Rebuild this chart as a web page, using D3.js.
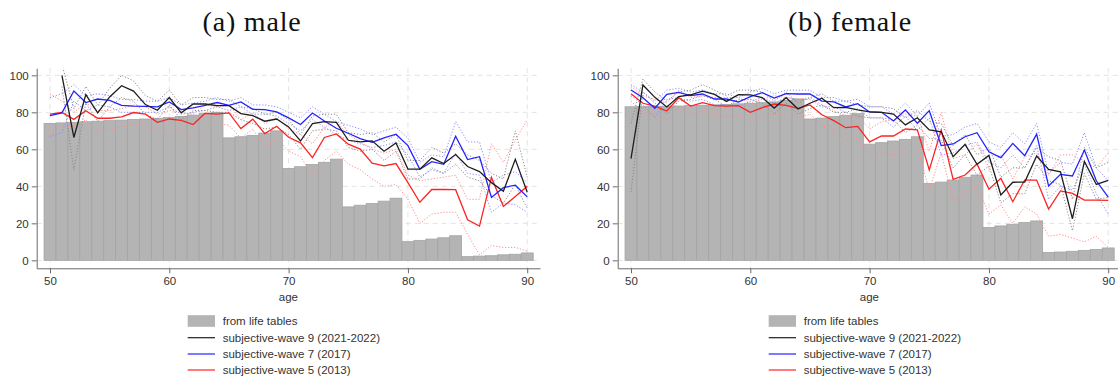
<!DOCTYPE html>
<html>
<head>
<meta charset="utf-8">
<script src="https://cdn.jsdelivr.net/npm/d3@7"></script>
<style>
  html, body { margin: 0; padding: 0; background: #fff; }
  svg { display: block; }
  .tick text { font-family: "Liberation Sans", Arial, sans-serif; font-size: 11.5px; fill: #333; }
</style>
</head>
<body>
<svg id="chart" width="1118" height="382"></svg>
<script>
// Ages on the horizontal axis
const ages = d3.range(50, 91);

// Survival probability to target age (%), male
const maleLifeTable = [74.0, 74.3, 74.6, 74.9, 75.2, 75.5, 75.8, 76.1, 76.4, 76.8,
  77.2, 77.8, 78.5, 79.3, 80.0, 66.2, 66.8, 67.5, 68.8, 70.0,
  49.6, 50.6, 51.8, 53.0, 54.7, 28.9, 29.8, 30.7, 32.0, 33.6,
  10.1, 10.8, 11.5, 12.2, 13.3, 2.0, 2.3, 2.5, 3.0, 3.3, 4.0];
const maleWave9 = [null, 100, 66.4, 89.6, 79.7, 88.3, 94.4, 91.5, 84.2, 81.1,
  88.0, 79.7, 84.5, 84.5, 83.6, 83.6, 79.3, 78.2, 75.2, 76.4,
  72.1, 64.5, 73.9, 75.0, 74.6, 64.9, 64.0, 64.6, 59.0, 63.5,
  49.3, 49.3, 55.4, 52.3, 57.2, 50.7, 48.0, 42.0, 37.3, 54.6, 36.8];
const maleWave9Lo = [null, 94, 49, 85, 75, 83, 88, 86, 79, 76,
  84, 76, 81, 81, 80, 80, 76, 74, 71, 72,
  68, 60, 70, 71, 70, 61, 59, 60, 54, 59,
  44, 44, 50, 47, 52, 45, 43, 35, 31, 41, 28];
const maleWave9Hi = [null, 106, 82, 94, 84, 93, 100, 97, 89, 86,
  92, 84, 88, 88, 87, 87, 83, 82, 79, 80,
  76, 68, 78, 79, 79, 69, 68, 69, 64, 68,
  54, 54, 61, 58, 63, 57, 54, 47, 44, 70, 45];
const maleWave7 = [78.2, 79.7, 91.5, 85.3, 87.2, 86.5, 83.8, 83.4, 83.2, 82.9,
  85.6, 81.5, 82.4, 83.8, 85.3, 83.8, 85.6, 81.6, 81.5, 80.2,
  77.0, 73.4, 79.6, 75.3, 71.4, 68.7, 65.8, 63.8, 66.2, 68.2,
  62.0, 49.2, 53.3, 51.9, 67.1, 54.5, 56.0, 34.0, 39.3, 40.6, 34.3];
const maleWave7Lo = [67, 69, 86, 81, 84, 83, 80, 80, 80, 80,
  83, 79, 80, 81, 83, 81, 83, 79, 79, 78,
  74, 70, 76, 72, 68, 65, 63, 61, 62, 64,
  57, 45, 49, 47, 58, 47, 46, 26, 31, 30, 26];
const maleWave7Hi = [88, 90, 95, 89, 90, 89, 87, 87, 86, 86,
  88, 84, 85, 86, 88, 86, 88, 84, 84, 83,
  80, 77, 83, 79, 75, 73, 71, 68, 70, 72,
  66, 53, 57, 56, 75, 64, 64, 42, 46, 48, 42];
const maleWave5 = [79.0, 79.9, 76.2, 80.9, 76.8, 76.8, 77.5, 79.9, 79.0, 74.6,
  76.4, 75.7, 73.4, 79.5, 79.0, 79.7, 71.2, 76.3, 68.5, 72.5,
  66.5, 63.5, 55.5, 66.4, 68.3, 62.8, 60.1, 52.5, 51.1, 52.3,
  42.0, 31.4, 38.3, 38.3, 38.2, 21.9, 18.5, 44.8, 29.1, 34.5, 40.1];
const maleWave5Lo = [68, 73, 72, 76, 70, 71, 72, 74, 73, 69,
  71, 70, 66, 72, 74, 73, 66, 71, 61, 66,
  59, 56, 46, 54, 59, 52, 49, 44, 40, 41,
  33, 20, 25, 26, 26, 14, 3, 8, 7, 7, 5];
const maleWave5Hi = [90, 86, 80, 85, 81, 81, 82, 84, 83, 79,
  81, 80, 79, 84, 83, 84, 76, 80, 74, 77,
  71, 68, 63, 72, 75, 68, 64, 60, 58, 60,
  46, 43, 44, 45, 46, 33, 33, 63, 53, 65, 76];

// Survival probability to target age (%), female
const femaleLifeTable = [83.0, 83.1, 83.2, 83.3, 83.4, 83.6, 83.8, 84.0, 84.3, 84.6,
  84.9, 85.2, 85.6, 86.4, 87.2, 76.4, 76.9, 77.7, 78.4, 79.3,
  62.8, 63.6, 64.5, 65.4, 66.8, 41.6, 42.3, 43.4, 44.9, 46.1,
  17.8, 18.6, 19.5, 20.4, 21.3, 4.3, 4.5, 4.9, 5.4, 5.9, 6.7];
const femaleWave9 = [55.0, 94.8, 88.1, 82.9, 88.5, 89.5, 91.5, 89.7, 85.9, 89.5,
  89.4, 87.9, 82.3, 87.9, 81.8, 84.9, 87.6, 82.5, 82.7, 81.3,
  80.2, 80.0, 79.1, 73.2, 77.1, 70.5, 69.5, 56.0, 62.7, 51.9,
  56.7, 35.3, 42.2, 42.3, 56.4, 49.2, 47.8, 22.5, 53.5, 41.0, 43.2];
const femaleWave9Lo = [37, 91, 85, 79, 86, 87, 89, 87, 83, 87,
  87, 85, 79, 85, 79, 82, 84, 80, 80, 78,
  77, 77, 76, 69, 73, 66, 65, 50, 57, 46,
  51, 31, 36, 36, 52, 43, 41, 16, 47, 33, 34];
const femaleWave9Hi = [74, 98, 91, 86, 91, 92, 95, 92, 89, 92,
  92, 91, 86, 91, 85, 88, 90, 86, 86, 84,
  83, 83, 82, 77, 81, 75, 74, 62, 68, 57,
  61, 45, 50, 50, 61, 56, 54, 33, 61, 50, 53];
const femaleWave7 = [92.1, 87.9, 82.2, 89.7, 90.8, 89.0, 89.9, 87.2, 87.2, 85.6,
  88.5, 90.6, 87.7, 90.1, 89.9, 89.9, 86.1, 85.6, 82.9, 84.7,
  80.2, 80.0, 75.3, 81.3, 74.1, 80.9, 62.0, 62.9, 66.8, 69.0,
  58.7, 55.5, 63.2, 56.6, 68.2, 40.2, 46.5, 45.6, 59.6, 43.0, 34.2];
const femaleWave7Lo = [89, 84, 77, 87, 88, 86, 87, 84, 84, 83,
  86, 88, 85, 88, 87, 87, 83, 83, 80, 82,
  77, 77, 72, 78, 70, 77, 57, 58, 62, 64,
  53, 50, 57, 50, 62, 33, 40, 38, 52, 36, 25];
const femaleWave7Hi = [95, 91, 86, 92, 93, 91, 92, 90, 90, 88,
  91, 93, 90, 92, 92, 92, 88, 88, 86, 87,
  83, 83, 79, 85, 78, 85, 67, 68, 72, 74,
  64, 61, 69, 63, 74, 47, 53, 52, 69, 50, 43];
const femaleWave5 = [90.1, 84.9, 83.4, 80.7, 87.9, 83.4, 85.2, 83.6, 83.4, 83.6,
  80.0, 82.5, 84.5, 83.8, 82.2, 84.0, 78.7, 75.5, 71.7, 72.4,
  64.0, 67.2, 67.2, 71.0, 70.5, 48.8, 70.5, 43.8, 46.1, 52.1,
  38.4, 44.3, 31.7, 43.4, 43.4, 27.7, 37.5, 36.2, 32.6, 32.6, 32.4];
const femaleWave5Lo = [86, 80, 79, 76, 83, 79, 81, 79, 78, 78,
  75, 78, 79, 79, 77, 79, 73, 70, 65, 66,
  57, 58, 57, 61, 61, 38, 58, 33, 35, 40,
  25, 30, 20, 29, 25, 13, 14, 12, 10, 13, 7];
const femaleWave5Hi = [94, 89, 87, 85, 92, 88, 89, 88, 88, 88,
  85, 87, 89, 88, 87, 88, 84, 81, 78, 78,
  71, 75, 76, 79, 78, 59, 80, 55, 57, 63,
  50, 57, 44, 56, 58, 46, 57, 57, 53, 50, 58];

// Axis ticks and text
const xTicks = [50, 60, 70, 80, 90];
const yTicks = [0, 20, 40, 60, 80, 100];
const panelTitles = ["(a) male", "(b) female"];
const legendLabels = ["from life tables", "subjective-wave 9 (2021-2022)",
  "subjective-wave 7 (2017)", "subjective-wave 5 (2013)"];

const colors = {
  bar: "#b4b4b4", barEdge: "#a4a4a4",
  w9: "#1e1e1e", w7: "#2323ff", w5: "#ff2222",
  w9ci: "#8a8a8a", w7ci: "#8c8cff", w5ci: "#ff8c8c",
  grid: "#e3e3e3", axis: "#6a6a6a"
};

const panels = [
  { offset: 0, titleX: 252, title: panelTitles[0], life: maleLifeTable,
    series: [
      { key: "w5", mid: maleWave5, lo: maleWave5Lo, hi: maleWave5Hi },
      { key: "w7", mid: maleWave7, lo: maleWave7Lo, hi: maleWave7Hi },
      { key: "w9", mid: maleWave9, lo: maleWave9Lo, hi: maleWave9Hi }
    ] },
  { offset: 581, titleX: 850, title: panelTitles[1], life: femaleLifeTable,
    series: [
      { key: "w5", mid: femaleWave5, lo: femaleWave5Lo, hi: femaleWave5Hi },
      { key: "w7", mid: femaleWave7, lo: femaleWave7Lo, hi: femaleWave7Hi },
      { key: "w9", mid: femaleWave9, lo: femaleWave9Lo, hi: femaleWave9Hi }
    ] }
];

const svg = d3.select("#chart");

// Plot region in panel coordinates
const plot = { left: 36.7, right: 540, top: 68.3, bottom: 268.3 };
const x = d3.scaleLinear().domain([48.885, 91.07]).range([plot.left, plot.right]);
const y = d3.scaleLinear().domain([-4.3, 103.8]).range([plot.bottom, plot.top]);

svg.append("defs").append("clipPath").attr("id", "plotClip")
  .append("rect")
  .attr("x", plot.left).attr("y", plot.top)
  .attr("width", plot.right - plot.left).attr("height", plot.bottom - plot.top);

panels.forEach(p => {
  const g = svg.append("g").attr("transform", `translate(${p.offset},0)`);

  // Panel title
  svg.append("text")
    .attr("x", p.titleX).attr("y", 31)
    .attr("text-anchor", "middle")
    .style("font-family", "'Liberation Serif', 'Times New Roman', serif")
    .style("font-size", "28px")
    .style("letter-spacing", "0.8px")
    .style("fill", "#111")
    .text(p.title);

  // Dashed grid
  const grid = g.append("g");
  grid.selectAll("line.h").data(yTicks).join("line")
    .attr("x1", plot.left).attr("x2", plot.right)
    .attr("y1", d => y(d)).attr("y2", d => y(d))
    .attr("stroke", colors.grid).attr("stroke-dasharray", "5,4");
  grid.selectAll("line.v").data(xTicks).join("line")
    .attr("y1", plot.top).attr("y2", plot.bottom)
    .attr("x1", d => x(d)).attr("x2", d => x(d))
    .attr("stroke", colors.grid).attr("stroke-dasharray", "5,4");

  // Life-table bars, one year wide
  g.append("g").selectAll("rect").data(ages).join("rect")
    .attr("x", a => x(a - 0.5))
    .attr("width", a => x(a + 0.5) - x(a - 0.5))
    .attr("y", (a, i) => y(p.life[i]))
    .attr("height", (a, i) => y(0) - y(p.life[i]))
    .attr("fill", colors.bar)
    .attr("stroke", colors.barEdge)
    .attr("stroke-width", 0.8);

  const line = vals => d3.line()
    .defined((a, i) => vals[i] != null)
    .x(a => x(a))
    .y((a, i) => y(vals[i]))(ages);

  const lines = g.append("g").attr("clip-path", "url(#plotClip)");

  // Confidence bounds (dotted)
  p.series.forEach(s => {
    [s.lo, s.hi].forEach(vals => {
      lines.append("path")
        .attr("d", line(vals))
        .attr("fill", "none")
        .attr("stroke", colors[s.key + "ci"])
        .attr("stroke-width", 1)
        .attr("stroke-dasharray", "1.2,1.8");
    });
  });

  // Point estimates
  p.series.forEach(s => {
    lines.append("path")
      .attr("d", line(s.mid))
      .attr("fill", "none")
      .attr("stroke", colors[s.key])
      .attr("stroke-width", 1.3)
      .attr("stroke-linejoin", "miter");
  });

  // Axes
  const yAxis = g.append("g")
    .attr("transform", `translate(${plot.left},0)`)
    .call(d3.axisLeft(y).tickValues(yTicks).tickSize(5).tickSizeOuter(0).tickPadding(3));
  const xAxis = g.append("g")
    .attr("transform", `translate(0,${plot.bottom})`)
    .call(d3.axisBottom(x).tickValues(xTicks).tickSize(5).tickSizeOuter(0).tickPadding(4));
  [yAxis, xAxis].forEach(ax => {
    ax.select(".domain").attr("stroke", colors.axis);
    ax.selectAll(".tick line").attr("stroke", colors.axis);
  });

  // Axis title
  g.append("text")
    .attr("x", (plot.left + plot.right) / 2).attr("y", 301)
    .attr("text-anchor", "middle")
    .style("font-family", "'Liberation Sans', Arial, sans-serif")
    .style("font-size", "11.5px")
    .style("fill", "#333")
    .text("age");

  // Legend
  const lg = g.append("g").attr("transform", "translate(187.7,0)");
  const rows = [321, 337.7, 354, 370];
  lg.append("rect").attr("x", 0).attr("y", rows[0] - 5.8)
    .attr("width", 27.3).attr("height", 11.6).attr("fill", colors.bar);
  ["w9", "w7", "w5"].forEach((k, i) => {
    lg.append("line")
      .attr("x1", 0).attr("x2", 27.3)
      .attr("y1", rows[i + 1]).attr("y2", rows[i + 1])
      .attr("stroke", colors[k]).attr("stroke-width", 1.2);
  });
  lg.selectAll("text").data(legendLabels).join("text")
    .attr("x", 35).attr("y", (d, i) => rows[i] + 4)
    .style("font-family", "'Liberation Sans', Arial, sans-serif")
    .style("font-size", "11.5px")
    .style("fill", "#333")
    .text(d => d);
});
</script>
</body>
</html>
